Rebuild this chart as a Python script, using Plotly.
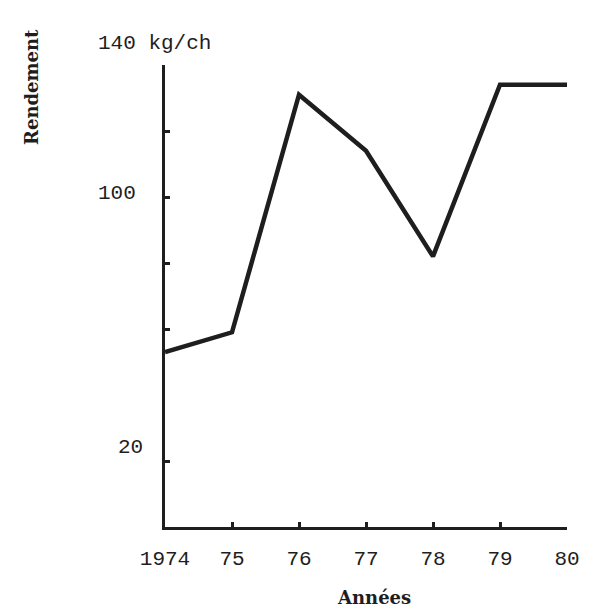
import plotly.graph_objects as go

years = [1974, 1975, 1976, 1977, 1978, 1979, 1980]
rendement = [53, 59, 131, 114, 82, 134, 134]
x_tick_vals = [1974, 1975, 1976, 1977, 1978, 1979, 1980]
x_tick_text = ["1974", "75", "76", "77", "78", "79", "80"]
y_tick_vals = [20, 60, 80, 100, 120, 140]
y_label_vals = [140, 100, 20]
y_label_text = ["140 kg/ch", "100", "20"]

ink = "#1e1e1e"
mono = "Liberation Mono, DejaVu Sans Mono, monospace"
serif = "DejaVu Serif, Liberation Serif, serif"

fig = go.Figure()
fig.add_trace(go.Scatter(x=years, y=rendement, mode="lines",
                         line=dict(color=ink, width=4.5), hoverinfo="x+y"))

fig.update_xaxes(range=[1974, 1980], tickvals=x_tick_vals, ticktext=x_tick_text,
                 showgrid=False, zeroline=False, showline=True, linecolor=ink, linewidth=3,
                 ticks="inside", ticklen=5, tickwidth=3, tickcolor=ink,
                 tickfont=dict(family=mono, size=21, color=ink), ticklabelstandoff=10)
fig.update_yaxes(range=[0, 140], tickvals=y_tick_vals, ticktext=[""] * len(y_tick_vals),
                 showgrid=False, zeroline=False, showline=True, linecolor=ink, linewidth=3,
                 ticks="inside", ticklen=5, tickwidth=3, tickcolor=ink)

# label placement (pixels relative to plot area)
label_place = {140: ("left", -69, 22), 100: ("left", -69, 4), 20: ("right", -20, 14)}
for v, t in zip(y_label_vals, y_label_text):
    anchor, xs, ys = label_place[v]
    fig.add_annotation(x=0, xref="paper", y=v, yref="y", text=t, showarrow=False,
                       xanchor=anchor, yanchor="middle", xshift=xs, yshift=ys,
                       font=dict(family=mono, size=21, color=ink))

fig.add_annotation(x=0.52, xref="paper", y=0, yref="paper", text="<b>Années</b>",
                   showarrow=False, xanchor="center", yanchor="middle", yshift=-70,
                   font=dict(family=serif, size=18, color=ink))
fig.add_annotation(x=0, xref="paper", y=1, yref="paper", text="<b>Rendement</b>",
                   showarrow=False, textangle=-90, xanchor="center", yanchor="middle",
                   xshift=-134, yshift=-22,
                   font=dict(family=serif, size=18, color=ink))

fig.update_layout(width=600, height=616, margin=dict(l=157, r=41, t=57, b=97),
                  paper_bgcolor="white", plot_bgcolor="white", showlegend=False)

fig.write_html("out.html")
